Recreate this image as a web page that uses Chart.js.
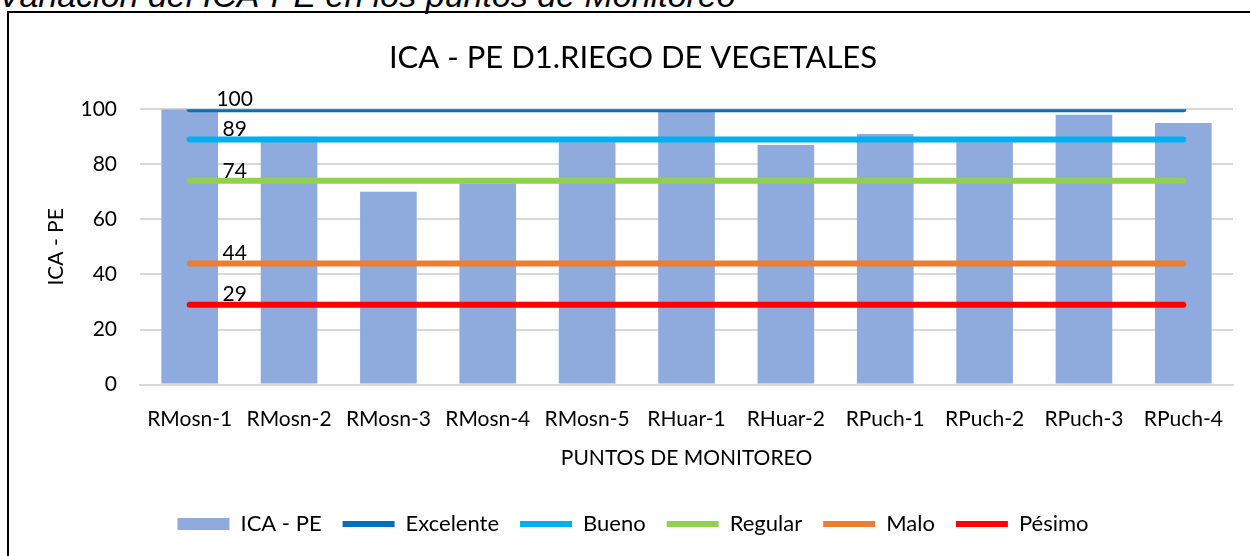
<!DOCTYPE html>
<html>
<head>
<meta charset="utf-8">
<script src="https://cdn.jsdelivr.net/npm/chart.js@4"></script>
<style>
  html, body { margin: 0; padding: 0; background: #fff; overflow: hidden; }
  #wrap { position: relative; width: 1250px; height: 556px; }
  #caption {
    position: absolute; left: -2px; top: -24px; line-height: 34px;
    font: italic 34px "Liberation Sans", Arial, sans-serif; color: #000;
    white-space: nowrap;
  }
  #frame {
    position: absolute; left: 7px; top: 11px; width: 1260px; height: 560px;
    border: 2px solid #000; box-sizing: border-box;
  }
  #chartBox { position: absolute; left: 0; top: 0; width: 1250px; height: 556px; }
</style>
</head>
<body>
<div id="wrap">
  <div id="caption">Variación del ICA-PE en los puntos de Monitoreo</div>
  <div id="frame"></div>
  <div id="chartBox"><canvas id="icaCanvas"></canvas></div>
</div>
<script>
// categorias (puntos de monitoreo)
const puntos = ["RMosn-1", "RMosn-2", "RMosn-3", "RMosn-4", "RMosn-5",
                "RHuar-1", "RHuar-2", "RPuch-1", "RPuch-2", "RPuch-3", "RPuch-4"];

// valores ICA - PE
const icaPE = [100, 90, 70, 73, 88, 99, 87, 91, 88, 98, 95];

// umbrales de calidad
const excelente = [100, 100, 100, 100, 100, 100, 100, 100, 100, 100, 100];
const bueno     = [89, 89, 89, 89, 89, 89, 89, 89, 89, 89, 89];
const regular   = [74, 74, 74, 74, 74, 74, 74, 74, 74, 74, 74];
const malo      = [44, 44, 44, 44, 44, 44, 44, 44, 44, 44, 44];
const pesimo    = [29, 29, 29, 29, 29, 29, 29, 29, 29, 29, 29];

const yTicks = [0, 20, 40, 60, 80, 100];

const FONT = "Lato, 'Open Sans', sans-serif";

function lineSet(label, data, color) {
  return {
    type: "line",
    label: label,
    data: data,
    borderColor: color,
    backgroundColor: color,
    borderWidth: 6,
    borderCapStyle: "round",
    pointRadius: 0,
    pointHoverRadius: 0,
    fill: false,
    tension: 0,
    order: 1
  };
}

// etiqueta del valor solo en el primer punto de cada linea
const firstPointLabel = {
  id: "firstPointLabel",
  afterDatasetsDraw(chart) {
    const ctx = chart.ctx;
    ctx.save();
    ctx.font = "21px " + FONT;
    ctx.fillStyle = "#000";
    ctx.textAlign = "center";
    ctx.textBaseline = "middle";
    chart.data.datasets.forEach((ds, i) => {
      if (ds.type !== "line") return;
      const pt = chart.getDatasetMeta(i).data[0];
      if (!pt) return;
      ctx.fillText(String(ds.data[0]), pt.x + 45, pt.y - 10);
    });
    ctx.restore();
  }
};

const ctx = document.getElementById("icaCanvas").getContext("2d");

new Chart(ctx, {
  type: "bar",
  data: {
    labels: puntos,
    datasets: [
      {
        type: "bar",
        label: "ICA - PE",
        data: icaPE,
        backgroundColor: "#8FAADC",
        borderWidth: 0,
        categoryPercentage: 1,
        barPercentage: 0.57,
        order: 2
      },
      lineSet("Excelente", excelente, "#0070C0"),
      lineSet("Bueno", bueno, "#00B0F0"),
      lineSet("Regular", regular, "#92D050"),
      lineSet("Malo", malo, "#ED7D31"),
      lineSet("Pésimo", pesimo, "#FF0000")
    ]
  },
  options: {
    responsive: true,
    maintainAspectRatio: false,
    animation: false,
    layout: { padding: { top: 8, right: 17, bottom: 11, left: 33 } },
    plugins: {
      title: {
        display: true,
        text: "ICA - PE D1.RIEGO DE VEGETALES",
        color: "#000",
        font: { family: FONT, size: 31, weight: "normal" },
        padding: { top: 31, bottom: 33 }
      },
      legend: {
        position: "bottom",
        labels: {
          color: "#000",
          font: { family: FONT, size: 22 },
          usePointStyle: true,
          pointStyleWidth: 52,
          boxHeight: 12,
          padding: 21,
          sort: (a, b) => a.datasetIndex - b.datasetIndex,
          generateLabels(chart) {
            const items = Chart.defaults.plugins.legend.labels.generateLabels(chart);
            items.forEach(it => {
              it.pointStyle = it.datasetIndex === 0 ? "rect" : "line";
            });
            return items;
          }
        }
      },
      tooltip: { enabled: false }
    },
    scales: {
      x: {
        grid: { display: false, drawTicks: false },
        border: { display: true, color: "#D9D9D9", width: 2 },
        ticks: { color: "#000", font: { family: FONT, size: 21 }, padding: 22, maxRotation: 0 },
        title: {
          display: true,
          text: "PUNTOS DE MONITOREO",
          color: "#000",
          font: { family: FONT, size: 21 },
          padding: { top: -8, bottom: 21 }
        }
      },
      y: {
        min: 0,
        max: 100,
        afterBuildTicks(scale) {
          scale.ticks = yTicks.map(v => ({ value: v }));
        },
        afterFit(scale) { scale.width = 107; },
        grid: { color: "#D9D9D9", lineWidth: 2, drawTicks: false },
        border: { display: false },
        ticks: { color: "#000", font: { family: FONT, size: 21 }, padding: 23 },
        title: {
          display: true,
          text: "ICA - PE",
          color: "#000",
          font: { family: FONT, size: 21 },
          padding: { top: 11, bottom: 0 }
        }
      }
    }
  },
  plugins: [firstPointLabel]
});
</script>
</body>
</html>
